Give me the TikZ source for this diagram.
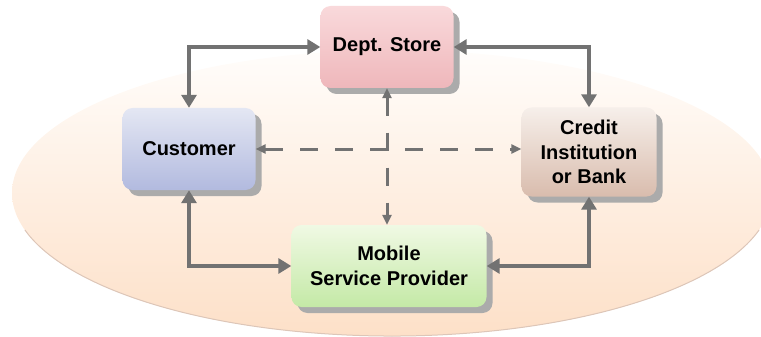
\documentclass[tikz,border=0pt]{standalone}
\usepackage{fontspec}
\setmainfont{Liberation Sans}
\usetikzlibrary{arrows.meta,shadows}
\definecolor{conncol}{HTML}{727272}
\definecolor{shadowcol}{HTML}{ABABAB}
\definecolor{ellTop}{HTML}{FFFDFB}
\definecolor{ellMid}{HTML}{FEEDDE}
\definecolor{ellBot}{HTML}{FDE0C8}
\definecolor{ellLine}{HTML}{DDC6B8}
\definecolor{deptTop}{HTML}{F9D9DB}
\definecolor{deptBot}{HTML}{EFB7BB}
\definecolor{custTop}{HTML}{E4E7F3}
\definecolor{custBot}{HTML}{B2BADF}
\definecolor{credTop}{HTML}{F6EFEA}
\definecolor{credBot}{HTML}{D9BCAD}
\definecolor{mobTop}{HTML}{F0F9E4}
\definecolor{mobBot}{HTML}{C4E9A6}
\tikzset{
  boxnode/.style={rounded corners=10pt, inner sep=0pt, align=center,
    font=\fontsize{20}{24.5}\selectfont\bfseries,
    drop shadow={shadow xshift=6pt, shadow yshift=-6pt, fill=shadowcol, opacity=1}},
  conn/.style={draw=conncol, line width=4.5pt,
    {Triangle[length=13pt,width=15pt]}-{Triangle[length=13pt,width=15pt]}},
  dconn/.style={draw=conncol, line width=3pt, dash pattern=on 18pt off 17pt,
    {Triangle[length=10pt,width=9pt]}-{Triangle[length=10pt,width=9pt]}}
}
\begin{document}
\begin{tikzpicture}[x=1pt,y=-1pt]
\useasboundingbox (0,0) rectangle (761,337);
\begin{scope}
\clip (0,0) rectangle (761,337);
\shade[top color=ellTop, middle color=ellMid, bottom color=ellBot]
  (392,193) ellipse [x radius=380, y radius=143];
\draw[ellLine, line width=1pt] (392,193) ++(15:380 and 143) arc [start angle=15, end angle=165, x radius=380, y radius=143];
\end{scope}
\node[boxnode, minimum width=133pt, minimum height=82pt, top color=deptTop, bottom color=deptBot] (dept) at (387,47) {Dept. Store};
\node[boxnode, minimum width=133pt, minimum height=82pt, top color=custTop, bottom color=custBot] (cust) at (189,149) {Customer};
\node[boxnode, minimum width=135pt, minimum height=89pt, top color=credTop, bottom color=credBot] (cred) at (589,152) {Credit\\Institution\\or Bank};
\node[boxnode, minimum width=195pt, minimum height=82pt, top color=mobTop, bottom color=mobBot] (mob) at (389,266) {Mobile\\Service Provider};
\draw[conn] (cust.north) |- (dept.west);
\draw[conn] (dept.east) -| (cred.north);
\draw[conn] (cust.south) |- (mob.west);
\draw[conn] (cred.south) |- (mob.east);
\draw[dconn] (cust.east) -- (cust.east -| cred.west);
\draw[dconn] (dept.south) -- (dept.south |- mob.north);
\end{tikzpicture}
\end{document}
